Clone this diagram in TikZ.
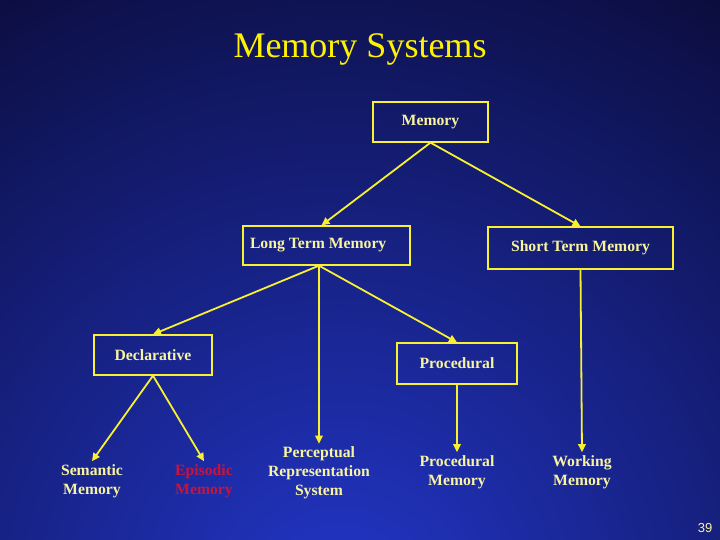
\documentclass[tikz,border=0pt]{standalone}
\usepackage{fontspec}
\setmainfont{Liberation Serif}
\newfontfamily\numfont{Liberation Sans}
\usetikzlibrary{arrows.meta,positioning}
\definecolor{bgin}{HTML}{2236C8}
\definecolor{bgout}{HTML}{0A0A34}
\definecolor{wire}{HTML}{F8F030}
\definecolor{paleyel}{HTML}{F8F4A0}
\definecolor{crimson}{HTML}{C8143C}

\begin{document}
\begin{tikzpicture}[x=1pt,y=-1pt,
    box/.style={draw=wire,line width=1.3pt,text=paleyel,font=\fontsize{15.7}{18}\selectfont\bfseries,
                inner sep=0pt},
    leaf/.style={text=paleyel,font=\fontsize{15.7}{19}\selectfont\bfseries,align=center,
                 inner sep=3pt},
    link/.style={draw=wire,line width=1.8pt,-{Triangle[length=8pt,width=7.5pt]}}]
  % background
  \useasboundingbox (0,0) rectangle (720,540);
  \begin{scope}
    \clip (0,0) rectangle (720,540);
    \shade[inner color=bgin,outer color=bgout] (340,600) circle (760);
  \end{scope}

  \node[text=yellow,font=\fontsize{36}{40}\selectfont] (title) at (360,49) {Memory Systems};

  % boxes
  \node[box,minimum width=115pt,minimum height=40pt] (mem) at (430.5,122) {Memory};
  \node[box,text width=153pt,inner xsep=7pt,minimum height=39pt,align=flush left] (ltm) at (326.5,245.5) {Long Term Memory};
  \node[box,minimum width=185pt,minimum height=42pt] (stm) at (580.5,248) {Short Term Memory};
  \node[box,minimum width=118pt,minimum height=40pt] (decl) at (153,355) {Declarative};
  \node[box,minimum width=120pt,minimum height=41pt] (proc) at (457,363.5) {Procedural};

  % leaves
  \node[leaf] (sem) at (92,481) {Semantic\\Memory};
  \node[leaf,text=crimson] (epi) at (204,481) {Episodic\\Memory};
  \node[leaf] (prs) at (319,473) {Perceptual\\Representation\\System};
  \node[leaf] (pmem) at (457,472) {Procedural\\Memory};
  \node[leaf] (wmem) at (582,472) {Working\\Memory};

  \node[text=paleyel,font=\numfont\fontsize{13}{15}\selectfont] (page) at (705,528) {39};

  % connectors
  \draw[link] (mem.south) -- ([xshift=-5pt]ltm.north);
  \draw[link] (mem.south) -- (stm.north);
  \draw[link] ([xshift=-7.5pt]ltm.south) -- (decl.north);
  \draw[link] ([xshift=-7.5pt]ltm.south) -- (proc.north);
  \draw[link] ([xshift=-7.5pt]ltm.south) -- (prs.north);
  \draw[link] (stm.south) -- (wmem.north);
  \draw[link] (decl.south) -- (sem.north);
  \draw[link] (decl.south) -- (epi.north);
  \draw[link] (proc.south) -- (pmem.north);
\end{tikzpicture}
\end{document}
